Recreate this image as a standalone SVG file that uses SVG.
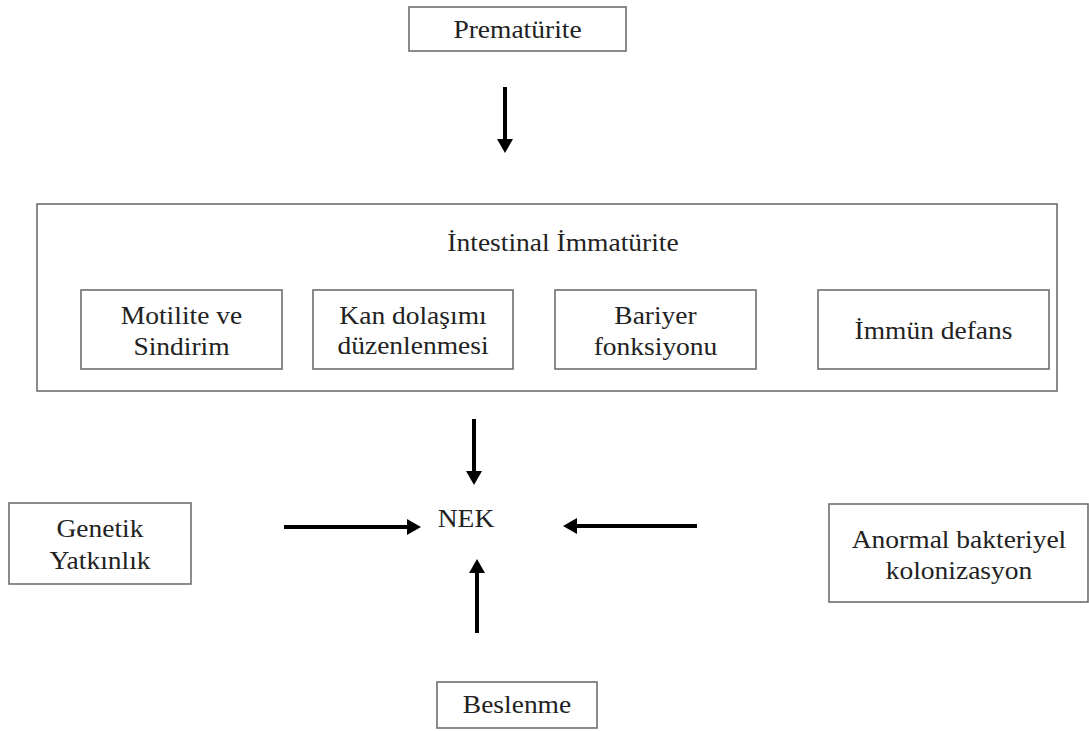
<svg xmlns="http://www.w3.org/2000/svg" width="1089" height="731" viewBox="0 0 1089 731">
<defs>
<style>
.box{fill:#fff;stroke:#6e6e6e;stroke-width:1.6}
.t{font-family:"Liberation Serif","Times New Roman",serif;font-size:25px;fill:#222;text-anchor:middle}
.arr{stroke:#000;stroke-width:4;fill:none;marker-end:url(#ah)}
</style>
<marker id="ah" markerUnits="userSpaceOnUse" markerWidth="14" markerHeight="16" viewBox="0 0 14 16" refX="1" refY="8" orient="auto">
<path d="M0,0 L14,8 L0,16 Z" fill="#000"/>
</marker>
</defs>
<rect width="1089" height="731" fill="#fff"/>
<g id="prematurite">
<rect class="box" x="409" y="7" width="217" height="44"/>
<text class="t" transform="translate(517.5,38) scale(1.1,1)">Prematürite</text>
</g>
<g id="intestinal">
<rect class="box" x="37" y="204" width="1020" height="187"/>
<text class="t" transform="translate(563,251) scale(1.1,1)">İntestinal İmmatürite</text>
</g>
<g id="motilite">
<rect class="box" x="81" y="290" width="201" height="79"/>
<text class="t" transform="translate(181.5,324) scale(1.1,1)">Motilite ve</text>
<text class="t" transform="translate(181.5,355) scale(1.1,1)">Sindirim</text>
</g>
<g id="kan">
<rect class="box" x="313" y="290" width="200" height="79"/>
<text class="t" transform="translate(413,324) scale(1.1,1)">Kan dolaşımı</text>
<text class="t" transform="translate(413,354) scale(1.1,1)">düzenlenmesi</text>
</g>
<g id="bariyer">
<rect class="box" x="555" y="290" width="201" height="79"/>
<text class="t" transform="translate(655.5,324) scale(1.1,1)">Bariyer</text>
<text class="t" transform="translate(655.5,355) scale(1.1,1)">fonksiyonu</text>
</g>
<g id="immun">
<rect class="box" x="818" y="290" width="231" height="79"/>
<text class="t" transform="translate(933.5,339) scale(1.1,1)">İmmün defans</text>
</g>
<g id="nek">
<text class="t" transform="translate(466,527) scale(1.1,1)">NEK</text>
</g>
<g id="genetik">
<rect class="box" x="9" y="503" width="182" height="81"/>
<text class="t" transform="translate(100,537) scale(1.1,1)">Genetik</text>
<text class="t" transform="translate(100,569) scale(1.1,1)">Yatkınlık</text>
</g>
<g id="anormal">
<rect class="box" x="829" y="504" width="259" height="98"/>
<text class="t" transform="translate(959,548) scale(1.1,1)">Anormal bakteriyel</text>
<text class="t" transform="translate(959,579) scale(1.1,1)">kolonizasyon</text>
</g>
<g id="beslenme">
<rect class="box" x="437" y="682" width="160" height="46"/>
<text class="t" transform="translate(517,713) scale(1.1,1)">Beslenme</text>
</g>
<g id="connectors">
<line class="arr" x1="505" y1="87" x2="505" y2="140"/>
<line class="arr" x1="474" y1="419" x2="474" y2="472"/>
<line class="arr" x1="477" y1="633" x2="477" y2="572"/>
<line class="arr" x1="284" y1="527" x2="408" y2="527"/>
<line class="arr" x1="697" y1="526" x2="576" y2="526"/>
</g>
</svg>
